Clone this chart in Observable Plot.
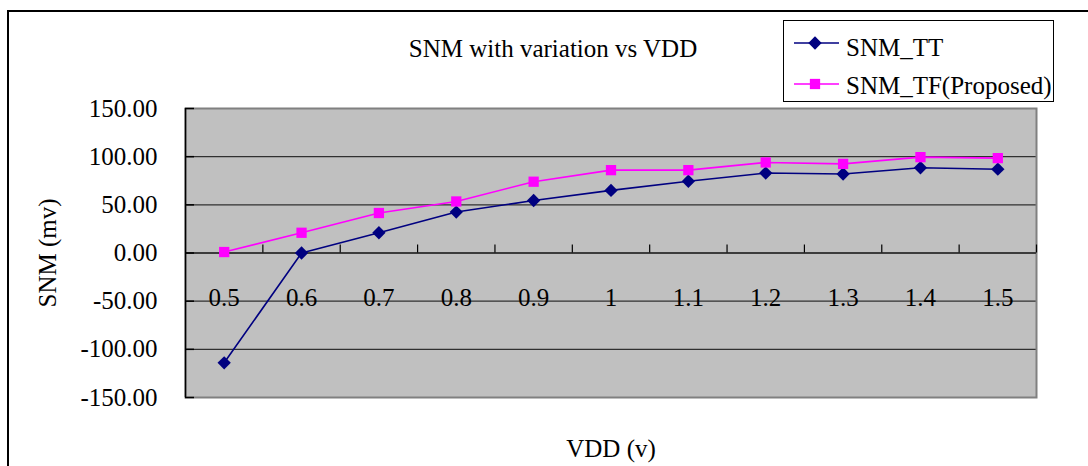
<!DOCTYPE html>
<html>
<head>
<meta charset="utf-8">
<script src="https://cdn.jsdelivr.net/npm/d3@7"></script>
<script src="https://cdn.jsdelivr.net/npm/@observablehq/plot@0.6"></script>
<style>
  html, body { margin: 0; padding: 0; background: #fff; width: 1088px; height: 466px; overflow: hidden; }
  #wrap { position: relative; width: 1088px; height: 466px; }
  #outer { position: absolute; left: 7px; top: 10px; width: 1200px; height: 600px; border-top: 2px solid #000; border-left: 2px solid #000; }
  #chart { position: absolute; left: 0; top: 0; }
  #chart svg text { font-family: "Liberation Serif", "DejaVu Serif", serif; font-size: 25px; fill: #000; }
  #legend { position: absolute; left: 783px; top: 20px; width: 271px; height: 82px; box-sizing: border-box; border: 1px solid #000; background: #fff; }
  #legend text { font-family: "Liberation Serif", "DejaVu Serif", serif; font-size: 25px; fill: #000; }
</style>
</head>
<body>
<div id="wrap">
  <div id="outer"></div>
  <div id="chart"></div>
  <div id="legend"></div>
</div>
<script>
// ---- data ----
const vdd = ["0.5", "0.6", "0.7", "0.8", "0.9", "1", "1.1", "1.2", "1.3", "1.4", "1.5"];
const snmTT = [-114, 0, 21, 42.5, 54.5, 65, 74.5, 83, 82, 88.5, 87];
const snmTF = [1, 21, 41.5, 53.5, 74, 86, 86, 94, 92.5, 99.5, 98.5];
const yTicks = [-150, -100, -50, 0, 50, 100, 150];
const gridValues = [-100, -50, 0, 50, 100];
const seriesNames = ["SNM_TT", "SNM_TF(Proposed)"];
const seriesColors = ["#000080", "#FF00FF"];
const seriesSymbols = ["diamond2", "square"];
const titleText = "SNM with variation vs VDD";
const xLabel = "VDD (v)";
const yLabel = "SNM (mv)";

// ---- layout ----
const W = 1088, H = 466;
const mL = 185, mR = 52, mT = 108, mB = 69;
const plotW = W - mL - mR, plotH = H - mT - mB;
const yDomain = [-150, 150];
const pxPerUnit = plotH / (yDomain[1] - yDomain[0]);
const stepPx = plotW / vdd.length;
const rDiamond = 6, rSquare = 5.8;

const rows = vdd.map((v, i) => ({i, vdd: v, tt: snmTT[i], tf: snmTF[i]}));
const boundaries = d3.range(1, vdd.length + 1).map(k => k - 0.5);

const plot = Plot.plot({
  width: W,
  height: H,
  marginLeft: mL,
  marginRight: mR,
  marginTop: mT,
  marginBottom: mB,
  style: {fontFamily: "Liberation Serif, serif", fontSize: "25px", background: "transparent", overflow: "visible"},
  x: {domain: [-0.5, vdd.length - 0.5], axis: null},
  y: {domain: yDomain, ticks: yTicks, tickFormat: d => d.toFixed(2), tickSize: 0, tickPadding: 28, label: null},
  marks: [
    Plot.frame({fill: "#C0C0C0", stroke: "none"}),
    Plot.ruleY(gridValues, {y: d => d, stroke: "#303030", strokeWidth: 1.2}),
    Plot.frame({stroke: "#808080", strokeWidth: 2}),
    Plot.ruleX([-0.5], {x: d => d, stroke: "#000", strokeWidth: 1.5}),
    Plot.ruleY(yTicks, {y: d => d, x1: -0.5, x2: -0.5 + 9 / stepPx, stroke: "#000", strokeWidth: 1.5}),
    Plot.ruleY([0], {y: d => d, stroke: "#000", strokeWidth: 1.2}),
    Plot.ruleX(boundaries, {x: d => d, y1: 0, y2: 8 / pxPerUnit, stroke: "#000", strokeWidth: 1.2}),
    Plot.text(rows, {x: "i", y: 0, text: "vdd", dy: 45, lineAnchor: "middle", textAnchor: "middle", fontSize: 25}),
    Plot.line(rows, {x: "i", y: "tt", stroke: seriesColors[0], strokeWidth: 1.6}),
    Plot.dot(rows, {x: "i", y: "tt", symbol: () => seriesSymbols[0], fill: seriesColors[0], r: rDiamond, stroke: "none"}),
    Plot.line(rows, {x: "i", y: "tf", stroke: seriesColors[1], strokeWidth: 1.6}),
    Plot.dot(rows, {x: "i", y: "tf", symbol: () => seriesSymbols[1], fill: seriesColors[1], r: rSquare, stroke: "none"}),
    Plot.text([titleText], {frameAnchor: "top", dx: -58, dy: -60, lineAnchor: "middle", textAnchor: "middle", fontSize: 25}),
    Plot.text([xLabel], {frameAnchor: "bottom", dy: 51, lineAnchor: "middle", textAnchor: "middle", fontSize: 25}),
    Plot.text([yLabel], {frameAnchor: "left", dx: -138, rotate: -90, lineAnchor: "middle", textAnchor: "middle", fontSize: 25})
  ]
});
document.getElementById("chart").appendChild(plot);

// ---- legend ----
const leg = d3.select("#legend").append("svg").attr("width", 269).attr("height", 80);
const rowY = [22, 63];
const textY = [35, 73];
seriesNames.forEach((name, k) => {
  const g = leg.append("g");
  g.append("line").attr("x1", 10).attr("x2", 55).attr("y1", rowY[k]).attr("y2", rowY[k])
    .attr("stroke", seriesColors[k]).attr("stroke-width", 1.6);
  const sym = k === 0 ? d3.symbolDiamond2 : d3.symbolSquare;
  const r = k === 0 ? rDiamond : rSquare;
  g.append("path").attr("d", d3.symbol(sym, Math.PI * r * r)())
    .attr("transform", `translate(31,${rowY[k]})`).attr("fill", seriesColors[k]);
  g.append("text").attr("x", 62).attr("y", textY[k]).text(name);
});
</script>
</body>
</html>
